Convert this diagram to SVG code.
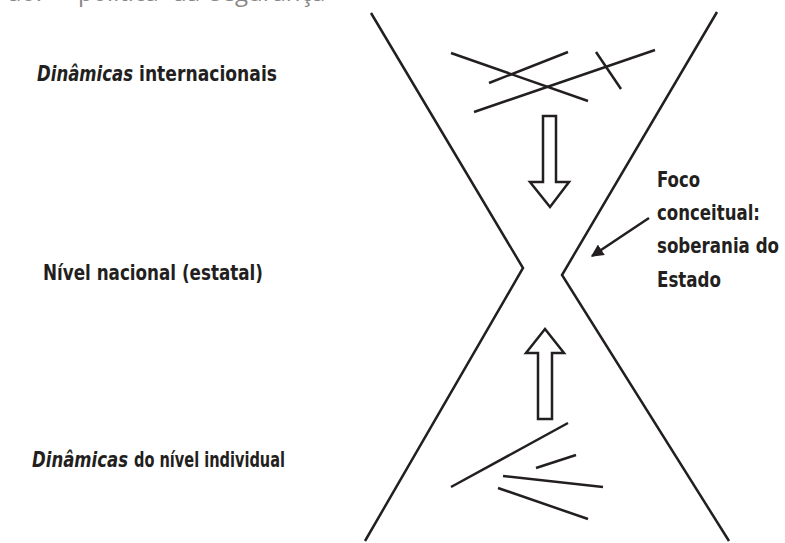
<svg xmlns="http://www.w3.org/2000/svg" width="785" height="543" viewBox="0 0 785 543">
<defs>
<style>
.ln{stroke:#231f20;stroke-width:2.5;fill:none;stroke-linecap:butt}
.ar{stroke:#231f20;stroke-width:2.5;fill:#fff;stroke-linejoin:miter}
.t{font-family:"DejaVu Sans Condensed","DejaVu Sans","Liberation Sans",sans-serif;font-weight:bold;font-size:21px;fill:#231f20}
.i{font-style:italic}
.cap{font-family:"Open Sans","Liberation Sans",sans-serif;font-size:24px;fill:#888}
</style>
<marker id="ah" viewBox="0 0 10 10" refX="9" refY="5" markerWidth="5" markerHeight="5" orient="auto" markerUnits="strokeWidth">
<path d="M0,0 L10,5 L0,10 z" fill="#231f20"/>
</marker>
</defs>
<rect width="785" height="543" fill="#fff"/>
<text class="cap" y="0.5"><tspan x="8">ão:</tspan><tspan x="78">política</tspan><tspan x="172">da</tspan><tspan x="210">segurança</tspan></text>
<g id="hourglass">
<polyline class="ln" points="371,13 523,268 365,541"/>
<polyline class="ln" points="717,12 562,275 729,541"/>
</g>
<g id="intl-lines">
<line class="ln" x1="451" y1="53" x2="588" y2="101"/>
<line class="ln" x1="489" y1="83" x2="568" y2="52"/>
<line class="ln" x1="474" y1="112" x2="655" y2="50"/>
<line class="ln" x1="596" y1="52" x2="621" y2="89"/>
</g>
<g id="indiv-lines">
<line class="ln" x1="451" y1="487" x2="568" y2="423"/>
<line class="ln" x1="536" y1="468" x2="576" y2="455"/>
<line class="ln" x1="503" y1="476" x2="603" y2="487"/>
<line class="ln" x1="498" y1="488" x2="588" y2="519"/>
</g>
<g id="connectors">
<path class="ar" d="M543,116 H556 V182 H569 L550,207 L530,182 H543 Z"/>
<path class="ar" d="M538,419 H552 V353 H564 L545,329 L526,353 H538 Z"/>
<line class="ln" x1="649" y1="218" x2="592" y2="256" marker-end="url(#ah)"/>
</g>
<g id="label-intl">
<text class="t i" x="37" y="81" textLength="96" lengthAdjust="spacingAndGlyphs">Dinâmicas</text>
<text class="t" x="139" y="81" textLength="138" lengthAdjust="spacingAndGlyphs">internacionais</text>
</g>
<g id="label-nac"><text class="t" x="43" y="280" textLength="220" lengthAdjust="spacingAndGlyphs">Nível nacional (estatal)</text></g>
<g id="label-indiv">
<text class="t i" x="32" y="467" textLength="96" lengthAdjust="spacingAndGlyphs">Dinâmicas</text>
<text class="t" x="134" y="467" textLength="151" lengthAdjust="spacingAndGlyphs">do nível individual</text>
</g>
<g id="label-foco">
<text class="t" x="657" y="187" textLength="43" lengthAdjust="spacingAndGlyphs">Foco</text>
<text class="t" x="657" y="220" textLength="103" lengthAdjust="spacingAndGlyphs">conceitual:</text>
<text class="t" x="657" y="253" textLength="122" lengthAdjust="spacingAndGlyphs">soberania do</text>
<text class="t" x="657" y="287" textLength="64" lengthAdjust="spacingAndGlyphs">Estado</text>
</g>
</svg>
